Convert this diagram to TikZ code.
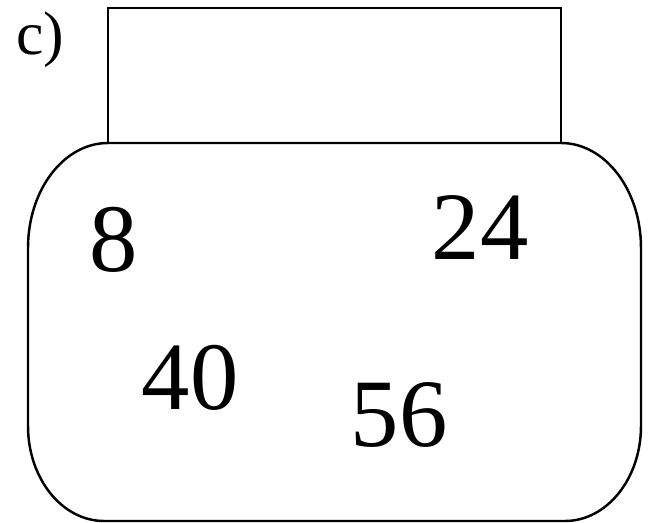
\documentclass[tikz,border=0pt]{standalone}
\usepackage{fontspec}
\setmainfont{Liberation Serif}
\usepackage{tikz}
\usetikzlibrary{positioning}

\begin{document}
\begin{tikzpicture}[x=0.02cm,y=-0.02cm,line width=1.4pt,
  num/.style={anchor=base,font=\fontsize{55}{60}\selectfont}]
\useasboundingbox (0,0) rectangle (650,523);
\node[anchor=base,font=\fontsize{35}{38}\selectfont] (tag) at (40,55) {c)};
% lid and body
\draw (108,143) rectangle (561,8);
\draw (108,143) -- (561,143) arc[start angle=-90,end angle=0,x radius=80,y radius=105]
  -- (641,426) arc[start angle=0,end angle=90,x radius=76,y radius=95]
  -- (104,521) arc[start angle=90,end angle=180,x radius=76,y radius=95]
  -- (28,248) arc[start angle=180,end angle=270,x radius=80,y radius=105];
\node[num] (n8) at (114,272) {8};
\node[num] (n24) at (480,260) {24};
\node[num] (n40) at (190,410) {40};
\node[num] (n56) at (399,447) {56};
\end{tikzpicture}
\end{document}
